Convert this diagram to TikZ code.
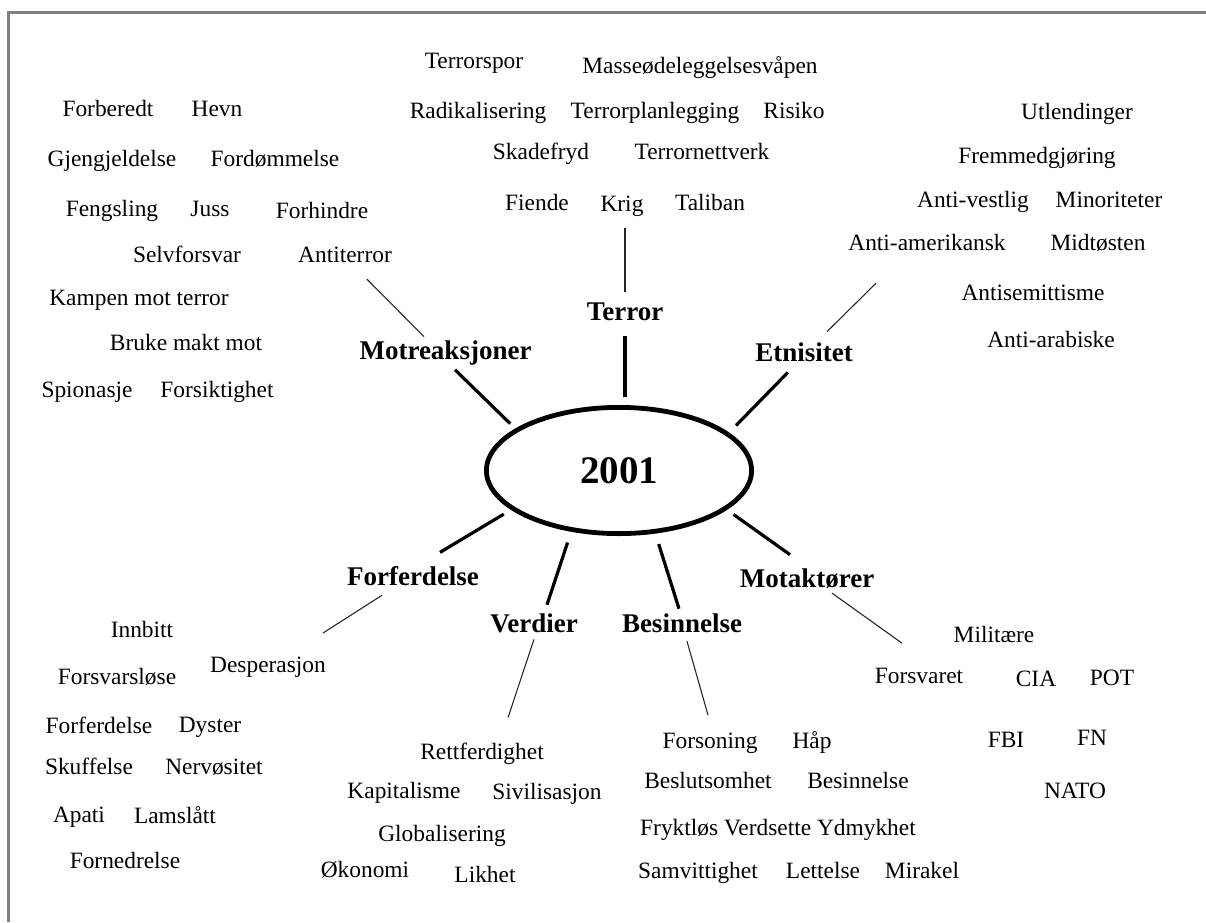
\documentclass[tikz,border=0pt]{standalone}
\usepackage{fontspec}
\setmainfont{Liberation Serif}
\usetikzlibrary{shapes.geometric}
\begin{document}
\begin{tikzpicture}[x=0.5pt,y=-0.5pt,
  word/.style={anchor=base,inner sep=0pt,outer sep=0pt,font=\fontsize{11.7}{14}\selectfont},
  cat/.style={anchor=base,inner sep=0pt,outer sep=0pt,font=\fontsize{13.5}{16}\selectfont\bfseries},
  spoke/.style={line width=1.6pt},
  twig/.style={line width=0.55pt,black!85},
  frameline/.style={line width=1.5pt,gray}]

\useasboundingbox (0,0) rectangle (1206,922);
\draw[frameline] (8.5,922) -- (8.5,12.5) -- (1206,12.5);

% centre
\node[ellipse,draw,line width=2.4pt,minimum width=132.6pt,minimum height=63.1pt,
      inner sep=0pt,font=\fontsize{19.5}{22}\selectfont\bfseries] (e) at (619,470.5) {2001};

% categories
\node[cat] (mot)  at (445.5,359) {Motreaksjoner};
\node[cat] (ter)  at (625,320)   {Terror};
\node[cat] (etn)  at (804,361)   {Etnisitet};
\node[cat] (forf) at (413,585)   {Forferdelse};
\node[cat] (ver)  at (534,632)   {Verdier};
\node[cat] (bes)  at (682,632)   {Besinnelse};
\node[cat] (mota) at (807,587)   {Motaktører};

% Motreaksjoner words
\node[word] (forb)  at (108,116) {Forberedt};
\node[word] (hevn)  at (217,116) {Hevn};
\node[word] (gjeng) at (112,166) {Gjengjeldelse};
\node[word] (fordo) at (275,166) {Fordømmelse};
\node[word] (feng)  at (112,216) {Fengsling};
\node[word] (juss)  at (210,216) {Juss};
\node[word] (forh)  at (322,218) {Forhindre};
\node[word] (selv)  at (187,262) {Selvforsvar};
\node[word] (antit) at (345,262) {Antiterror};
\node[word] (kamp)  at (139,305) {Kampen mot terror};
\node[word] (bruke) at (186,350) {Bruke makt mot};
\node[word] (spion) at (87,397)  {Spionasje};
\node[word] (forsi) at (217,397) {Forsiktighet};

% Terror words
\node[word] (tspor) at (474,68)  {Terrorspor};
\node[word] (masse) at (700,73)  {Masseødeleggelsesvåpen};
\node[word] (radik) at (478,118) {Radikalisering};
\node[word] (tplan) at (655,118) {Terrorplanlegging};
\node[word] (risik) at (794,118) {Risiko};
\node[word] (skade) at (541,159) {Skadefryd};
\node[word] (tnett) at (702,159) {Terrornettverk};
\node[word] (fiend) at (537,210) {Fiende};
\node[word] (krig)  at (622,211) {Krig};
\node[word] (talib) at (710,210) {Taliban};

% Etnisitet words
\node[word] (utl)   at (1077,119) {Utlendinger};
\node[word] (fremm) at (1037,163) {Fremmedgjøring};
\node[word] (avest) at (973,207)  {Anti-vestlig};
\node[word] (minor) at (1109,207) {Minoriteter};
\node[word] (aam)   at (927,250)  {Anti-amerikansk};
\node[word] (midt)  at (1098,250) {Midtøsten};
\node[word] (asem)  at (1033,300) {Antisemittisme};
\node[word] (aarab) at (1051,347) {Anti-arabiske};

% Forferdelse words
\node[word] (innb)  at (142,637) {Innbitt};
\node[word] (desp)  at (268,672) {Desperasjon};
\node[word] (forsl) at (117,684) {Forsvarsløse};
\node[word] (forfw) at (99,733)  {Forferdelse};
\node[word] (dyst)  at (210,732) {Dyster};
\node[word] (skuf)  at (89,774)  {Skuffelse};
\node[word] (nerv)  at (214,774) {Nervøsitet};
\node[word] (apat)  at (79,822)  {Apati};
\node[word] (lams)  at (175,823) {Lamslått};
\node[word] (forn)  at (125,868) {Fornedrelse};

% Verdier words
\node[word] (rett)  at (482,759) {Rettferdighet};
\node[word] (kapit) at (404,798) {Kapitalisme};
\node[word] (sivil) at (547,799) {Sivilisasjon};
\node[word] (glob)  at (442,841) {Globalisering};
\node[word] (okon)  at (365,877) {Økonomi};
\node[word] (likh)  at (485,882) {Likhet};

% Besinnelse words
\node[word] (fors)  at (710,748) {Forsoning};
\node[word] (haap)  at (812,748) {Håp};
\node[word] (besl)  at (708,788) {Beslutsomhet};
\node[word] (besw)  at (858,788) {Besinnelse};
\node[word] (frykt) at (778,835) {Fryktløs Verdsette Ydmykhet};
\node[word] (samv)  at (698,878) {Samvittighet};
\node[word] (lett)  at (823,878) {Lettelse};
\node[word] (mirak) at (922,878) {Mirakel};

% Motaktører words
\node[word] (milit) at (994,642)  {Militære};
\node[word] (forsv) at (919,683)  {Forsvaret};
\node[word] (cia)   at (1036,686) {CIA};
\node[word] (pot)   at (1112,685) {POT};
\node[word] (fbi)   at (1006,747) {FBI};
\node[word] (fn)    at (1092,745) {FN};
\node[word] (nato)  at (1075,798) {NATO};

% spokes
\draw[spoke,shorten <=3.5pt] (e.158) -- ([shift={(9.5,5)}]mot.south);
\draw[spoke,shorten <=4pt] (ter |- e.north) -- ([shift={(0,16)}]ter.south);
\draw[spoke,shorten <=5pt] (e.19.5) -- ([shift={(-16,11)}]etn.south);
\draw[spoke,shorten <=4.2pt] (e.200.5) -- ([shift={(27,-13.6)}]forf.north);
\draw[spoke,shorten <=5.7pt] (e.232) -- ([shift={(13,-8.6)}]ver.north);
\draw[spoke,shorten <=5.5pt] (e.300.3) -- ([shift={(-3,-4.6)}]bes.north);
\draw[spoke,shorten <=4pt] (e.340.3) -- ([shift={(-17,-13.6)}]mota.north);

% twigs
\draw[twig] ([shift={(22,17)}]antit.south) -- ([shift={(-21.5,-3.6)}]mot.north);
\draw[twig] ([shift={(3,12)}]krig.south) -- ([shift={(0,-10)}]ter.north);
\draw[twig] ([shift={(-51,33)}]aam.south) -- ([shift={(23,-10.6)}]etn.north);
\draw[twig] ([shift={(-31,10)}]forf.south) -- ([shift={(55,-23.5)}]desp.north);
\draw[twig] ([shift={(0,7)}]ver.south) -- ([shift={(26,-25)}]rett.north);
\draw[twig] ([shift={(5,9)}]bes.south) -- ([shift={(-2,-17.5)}]fors.north);
\draw[twig] ([shift={(25,5)}]mota.south) -- ([shift={(-17,-24.5)}]forsv.north);
\end{tikzpicture}
\end{document}
